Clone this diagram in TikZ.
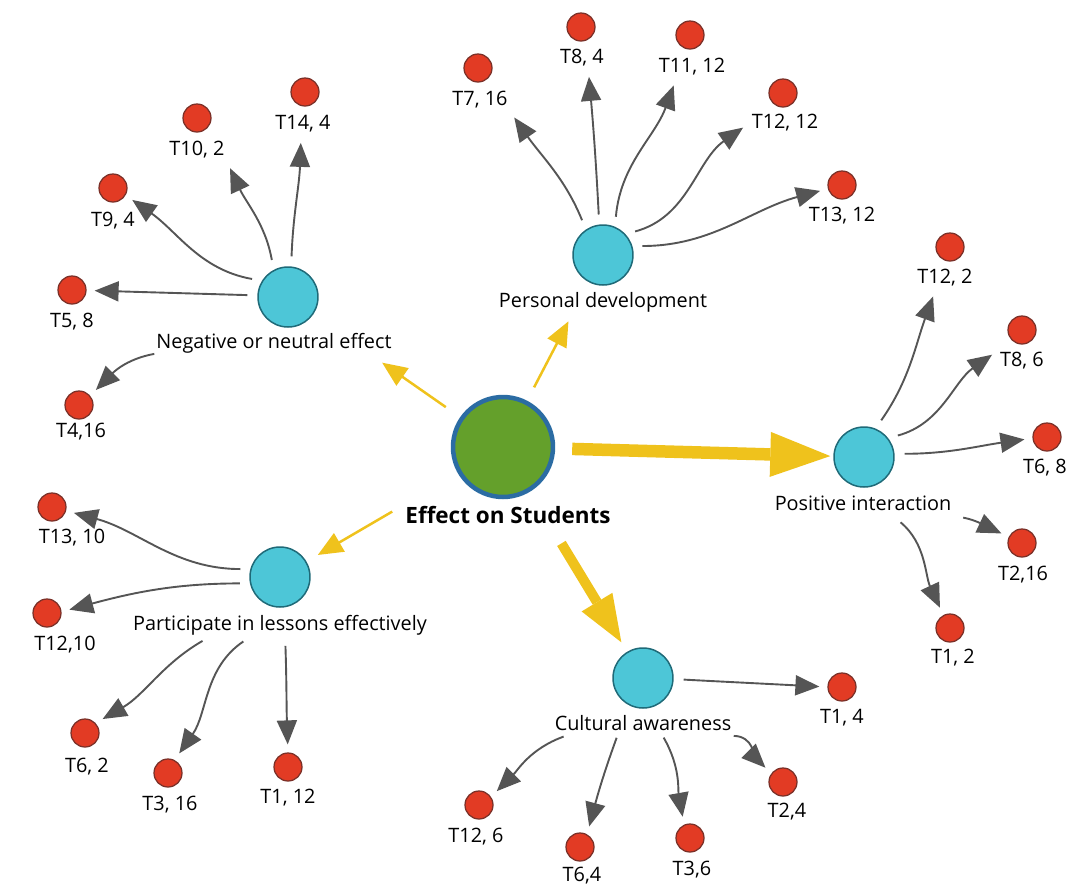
\documentclass[tikz,border=0pt]{standalone}
\usepackage{fontspec}
\setmainfont{Open Sans}
\usetikzlibrary{arrows.meta}
\definecolor{hubcyan}{HTML}{4DC6D7}
\definecolor{hubedge}{HTML}{1F6A78}
\definecolor{leafred}{HTML}{E23B24}
\definecolor{leafedge}{HTML}{7A3028}
\definecolor{coregreen}{HTML}{64A02B}
\definecolor{coreblue}{HTML}{2B6CA3}
\definecolor{ayellow}{HTML}{EFC21C}
\definecolor{agrey}{HTML}{555555}

\begin{document}
\begin{tikzpicture}[x=0.02cm, y=-0.02cm,
  hub/.style={circle, fill=hubcyan, draw=hubedge, line width=0.03cm, minimum size=1.2cm, inner sep=0pt},
  leaf/.style={circle, fill=leafred, draw=leafedge, line width=0.025cm, minimum size=0.56cm, inner sep=0pt},
  core/.style={circle, fill=coregreen, draw=coreblue, line width=0.09cm, minimum size=2cm, inner sep=0pt},
  txt/.style={font=\fontsize{11.3}{13}\selectfont, inner sep=1pt, text height=8pt, text depth=2pt},
  arr/.style={draw=agrey, line width=0.038cm, -{Triangle[length=0.48cm, width=0.4cm]}, shorten <=0.2cm, shorten >=0.16cm},
  fromlbl/.style={shorten <=0.04cm},
  yarr/.style={draw=ayellow, line width=0.05cm, -{Triangle[length=0.5cm, width=0.42cm]}},
  ybig/.style={draw=ayellow, line width=0.25cm, -{Triangle[length=1.2cm, width=0.9cm, line width=0pt]}}]
  \useasboundingbox (0,0) rectangle (1073,887);

  \node[core] (eff) at (503,447) {};
  \node[txt, font=\fontsize{12.8}{14}\selectfont\bfseries] (effl) at (508,518) {Effect on Students};

  \node[hub] (neg) at (288,297) {};
  \node[txt] (negl) at (274,343) {Negative or neutral effect};
  \node[hub] (pers) at (603,255) {};
  \node[txt] (persl) at (603,302) {Personal development};
  \node[hub] (pos) at (864,457) {};
  \node[txt] (posl) at (863,505) {Positive interaction};
  \node[hub] (part) at (280,577) {};
  \node[txt] (partl) at (280,625) {Participate in lessons effectively};
  \node[hub] (cult) at (643,678) {};
  \node[txt] (cultl) at (643,725) {Cultural awareness};

  \node[leaf] (ne14) at (305,92) {};
  \node[txt] (lne14) at (303,124) {T14, 4};
  \node[leaf] (ne10) at (197,118) {};
  \node[txt] (lne10) at (197,150) {T10, 2};
  \node[leaf] (ne9) at (113,188) {};
  \node[txt] (lne9) at (113,221) {T9, 4};
  \node[leaf] (ne5) at (72,290) {};
  \node[txt] (lne5) at (72,322) {T5, 8};
  \node[leaf] (ne4) at (79,405) {};
  \node[txt] (lne4) at (81,432) {T4,16};

  \node[leaf] (pe7) at (478,68) {};
  \node[txt] (lpe7) at (480,100) {T7, 16};
  \node[leaf] (pe8) at (581,27) {};
  \node[txt] (lpe8) at (582,58) {T8, 4};
  \node[leaf] (pe11) at (690,35) {};
  \node[txt] (lpe11) at (692,67) {T11, 12};
  \node[leaf] (pe12) at (783,93) {};
  \node[txt] (lpe12) at (785,123) {T12, 12};
  \node[leaf] (pe13) at (842,185) {};
  \node[txt] (lpe13) at (842,216) {T13, 12};

  \node[leaf] (po12) at (950,247) {};
  \node[txt] (lpo12) at (945,278) {T12, 2};
  \node[leaf] (po8) at (1022,330) {};
  \node[txt] (lpo8) at (1022,361) {T8, 6};
  \node[leaf] (po6) at (1047,437) {};
  \node[txt] (lpo6) at (1045,468) {T6, 8};
  \node[leaf] (po2) at (1022,543) {};
  \node[txt] (lpo2) at (1023,575) {T2,16};
  \node[leaf] (po1) at (950,628) {};
  \node[txt] (lpo1) at (953,658) {T1, 2};

  \node[leaf] (pa13) at (52,507) {};
  \node[txt] (lpa13) at (72,538) {T13, 10};
  \node[leaf] (pa12) at (47,613) {};
  \node[txt] (lpa12) at (65,645) {T12,10};
  \node[leaf] (pa6) at (85,733) {};
  \node[txt] (lpa6) at (87,767) {T6, 2};
  \node[leaf] (pa3) at (168,773) {};
  \node[txt] (lpa3) at (170,805) {T3, 16};
  \node[leaf] (pa1) at (288,767) {};
  \node[txt] (lpa1) at (288,798) {T1, 12};

  \node[leaf] (cu1) at (842,687) {};
  \node[txt] (lcu1) at (842,718) {T1, 4};
  \node[leaf] (cu2) at (783,782) {};
  \node[txt] (lcu2) at (787,812) {T2,4};
  \node[leaf] (cu3) at (690,838) {};
  \node[txt] (lcu3) at (692,870) {T3,6};
  \node[leaf] (cu6) at (580,847) {};
  \node[txt] (lcu6) at (582,876) {T6,4};
  \node[leaf] (cu12) at (479,805) {};
  \node[txt] (lcu12) at (476,837) {T12, 6};

  \draw[yarr, shorten <=0.35cm, shorten >=1.68cm] (eff) -- (neg);
  \draw[yarr, shorten <=0.3cm, shorten >=0.88cm] (eff) -- (pers);
  \draw[yarr, shorten <=1.52cm, shorten >=0.26cm] (eff) -- (part);
  \draw[ybig, shorten <=0.34cm, shorten >=0.06cm] (eff) -- (pos);
  \draw[ybig, line width=0.2cm, -{Triangle[length=0.94cm, width=0.72cm, line width=0pt]}, shorten <=1.21cm, shorten >=0.22cm] (eff) -- (cult);

  \draw[arr] (neg.84) to[out=88, in=-92] (lne14.-100);
  \draw[arr] (neg.118) to[out=100, in=-65] (lne10.south east);
  \draw[arr] (neg.148) to[out=170, in=-35] (ne9.-30);
  \draw[arr] (neg.177) -- (ne5);
  \draw[arr, shorten <=0pt] (negl.south west) to[out=190, in=45] (ne4.40);

  \draw[arr] (pers.124) to[out=112, in=-55] (lpe7.south east);
  \draw[arr] (pers.97) to[out=93, in=-85] (lpe8.-60);
  \draw[arr] (pers.67) to[out=85, in=-110] (lpe11.-145);
  \draw[arr] (pers.43) to[out=15, in=215] (lpe12.west);
  \draw[arr] (pers.17) to[out=0, in=195] (pe13.195);

  \draw[arr] (pos.68) to[out=55, in=-110] (lpo12.-130);
  \draw[arr] (pos.38) to[out=15, in=215] (lpo8.155);
  \draw[arr] (pos.6) to[out=0, in=188] (po6.185);
  \draw[arr] (posl.south east) to[out=-10, in=155] (po2.155);
  \draw[arr] (posl.-20) to[out=-40, in=115] (po1.117);

  \draw[arr] (part.165) to[out=180, in=-15] (pa13.-15);
  \draw[arr] (part.192) to[out=180, in=15] (pa12.5);
  \draw[arr] (partl.-171) to[out=-150, in=30] (pa6.43);
  \draw[arr] (partl.-159) to[out=-146, in=55] (pa3.63);
  \draw[arr] (partl.-65) to[out=-88, in=92] (pa1.north);

  \draw[arr] (cult.-2) to[out=-3, in=177] (cu1.180);
  \draw[arr, fromlbl] (cultl.-7) to[out=0, in=135] (cu2.144);
  \draw[arr, fromlbl] (cultl.-29) to[out=-60, in=100] (cu3.114);
  \draw[arr, fromlbl] (cultl.-157) to[out=-110, in=75] (cu6.61);
  \draw[arr, fromlbl] (cultl.-172.5) to[out=-160, in=45] (cu12.34);
\end{tikzpicture}
\end{document}
